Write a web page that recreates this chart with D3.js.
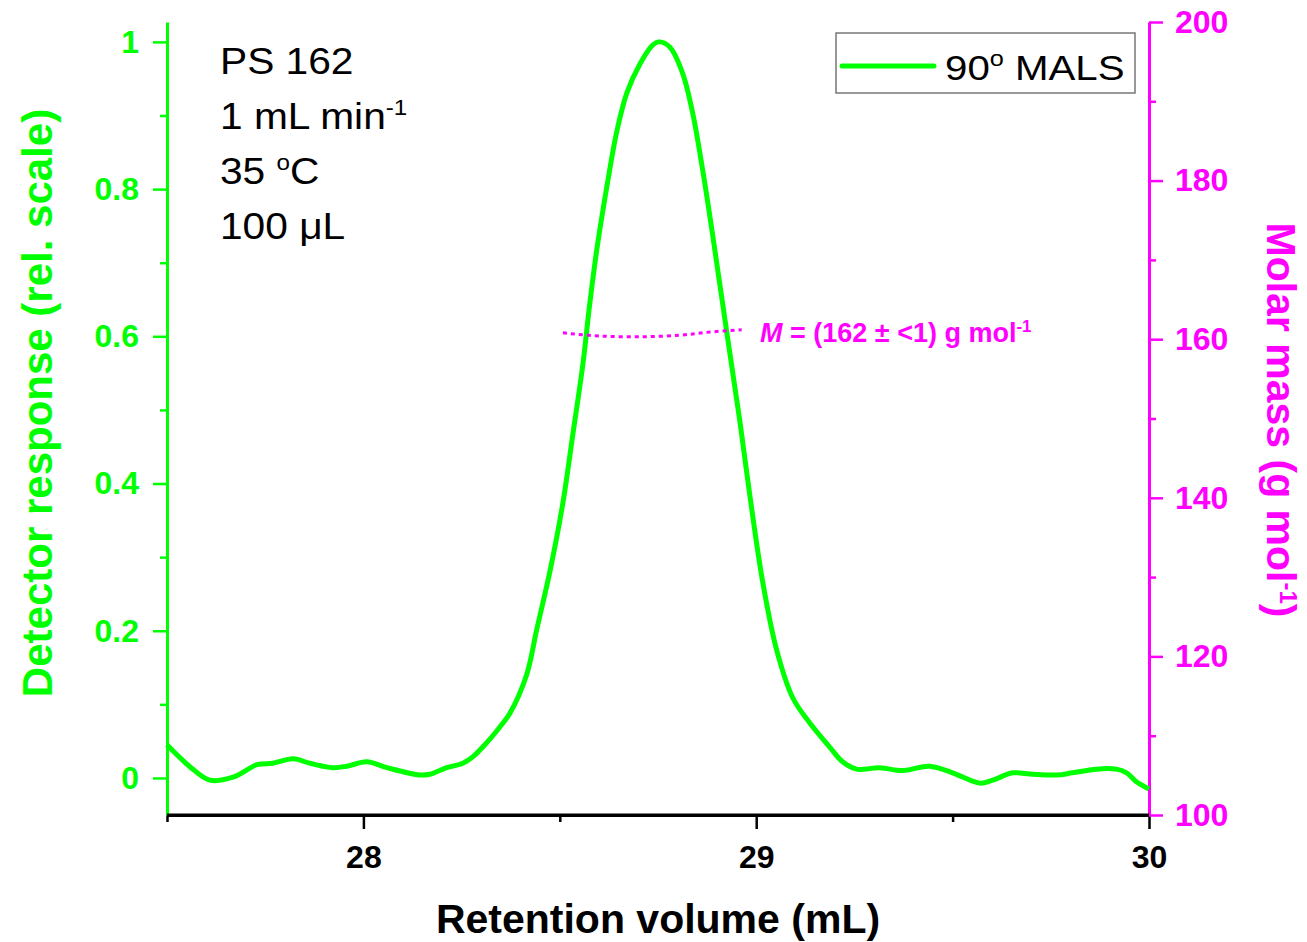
<!DOCTYPE html>
<html><head><meta charset="utf-8">
<script src="https://cdn.jsdelivr.net/npm/d3@7"></script>
<style>
body{margin:0;background:#fff}
svg{display:block}
text{font-family:Arial,"Liberation Sans",Helvetica,sans-serif}
</style>
</head><body>
<svg id="chart" width="1307" height="942"></svg>
<script>
// ---- data ----
const volume = [27.500,27.559,27.609,27.668,27.729,27.770,27.821,27.864,27.922,27.958,28.009,28.060,28.144,28.169,28.212,28.253,28.279,28.314,28.347,28.373,28.416,28.441,28.475,28.508,28.533,28.559,28.576,28.594,28.620,28.645,28.671,28.704,28.737,28.754,28.780,28.813,28.838,28.864,28.889,28.925,28.958,28.983,29.016,29.052,29.093,29.136,29.187,29.220,29.256,29.314,29.373,29.441,29.500,29.569,29.602,29.653,29.704,29.765,29.805,29.866,29.917,29.943,29.968,30.000];
const response = [0.045,0.015,-0.003,0.001,0.018,0.020,0.026,0.020,0.014,0.016,0.022,0.014,0.004,0.005,0.014,0.020,0.029,0.048,0.069,0.088,0.141,0.201,0.281,0.374,0.466,0.563,0.643,0.717,0.804,0.878,0.931,0.970,0.996,1.000,0.993,0.957,0.904,0.825,0.738,0.606,0.486,0.387,0.268,0.174,0.109,0.075,0.042,0.022,0.012,0.014,0.010,0.016,0.007,-0.007,-0.003,0.007,0.005,0.004,0.007,0.012,0.012,0.007,-0.005,-0.015];
const massVolume = [28.508,28.602,28.704,28.805,28.882,28.963];
const molarMass = [160.8,160.4,160.3,160.5,160.9,161.2];

const xMajorTicks = [28,29,30];
const xMinorTicks = [27.5,28.5,29.5];
const yLeftMajor = [0,0.2,0.4,0.6,0.8,1];
const yLeftLabels = ["0","0.2","0.4","0.6","0.8","1"];
const yLeftMinor = [0.1,0.3,0.5,0.7,0.9];
const yRightMajor = [100,120,140,160,180,200];
const yRightMinor = [110,130,150,170,190];
const infoLines = ["PS 162","1 mL min","35 ","100 μL"];

// ---- layout ----
const GREEN = "#00ff00", MAGENTA = "#ff00ff";
const L = 167, R = 1149, T = 22, B = 815;
const svg = d3.select("#chart");

const x = d3.scaleLinear().domain([27.5,30]).range([L,R]);
const yL = d3.scaleLinear().domain([-0.0503,1.027]).range([B,T]);
const yR = d3.scaleLinear().domain([100,200]).range([B,T]);

function styleAxis(g, color, fs){
  g.selectAll("path").attr("stroke",color).attr("stroke-width",3);
  g.selectAll("line").attr("stroke",color).attr("stroke-width",2.5);
  g.selectAll("text").attr("fill",color).attr("font-size",fs).attr("font-weight","bold")
   .attr("font-family",'Arial,"Liberation Sans",sans-serif');
}

// bottom axis
const gx = svg.append("g").attr("transform",`translate(0,${B})`)
  .call(d3.axisBottom(x).tickValues(xMajorTicks).tickFormat(d3.format("d")).tickSize(14).tickSizeOuter(0).tickPadding(16));
styleAxis(gx,"#000",32);
const gxm = svg.append("g").attr("transform",`translate(0,${B})`)
  .call(d3.axisBottom(x).tickValues(xMinorTicks).tickFormat("").tickSize(7).tickSizeOuter(0));
styleAxis(gxm,"#000",32); gxm.select("path").remove();

// left axis
const gl = svg.append("g").attr("transform",`translate(${L},0)`)
  .call(d3.axisLeft(yL).tickValues(yLeftMajor).tickFormat((d,i)=>yLeftLabels[i]).tickSize(14).tickSizeOuter(0).tickPadding(14));
styleAxis(gl,GREEN,32);
const glm = svg.append("g").attr("transform",`translate(${L},0)`)
  .call(d3.axisLeft(yL).tickValues(yLeftMinor).tickFormat("").tickSize(7).tickSizeOuter(0));
styleAxis(glm,GREEN,32); glm.select("path").remove();

// right axis
const gr = svg.append("g").attr("transform",`translate(${R},0)`)
  .call(d3.axisRight(yR).tickValues(yRightMajor).tickFormat(d3.format("d")).tickSize(14).tickSizeOuter(0).tickPadding(12));
styleAxis(gr,MAGENTA,32);
const grm = svg.append("g").attr("transform",`translate(${R},0)`)
  .call(d3.axisRight(yR).tickValues(yRightMinor).tickFormat("").tickSize(7).tickSizeOuter(0));
styleAxis(grm,MAGENTA,32); grm.select("path").remove();

svg.append("line").attr("x1",L).attr("x2",R).attr("y1",B).attr("y2",B).attr("stroke","#000").attr("stroke-width",3);

// detector trace
const pts = volume.map((v,i)=>[v,response[i]]);
svg.append("path").datum(pts)
  .attr("fill","none").attr("stroke",GREEN).attr("stroke-width",5).attr("stroke-linejoin","round")
  .attr("d", d3.line().x(d=>x(d[0])).y(d=>yL(d[1])).curve(d3.curveCatmullRom.alpha(0.5)));

// molar mass dotted line
const mpts = massVolume.map((v,i)=>[v,molarMass[i]]);
svg.append("path").datum(mpts)
  .attr("fill","none").attr("stroke",MAGENTA).attr("stroke-width",3).attr("stroke-dasharray","4,4")
  .attr("d", d3.line().x(d=>x(d[0])).y(d=>yR(d[1])).curve(d3.curveCatmullRom.alpha(0.5)));

// annotation
const ann = svg.append("text").attr("x",760).attr("y",342).attr("fill",MAGENTA)
  .attr("font-size",27).attr("font-weight","bold");
ann.append("tspan").attr("font-style","italic").text("M");
ann.append("tspan").text(" = (162 ± <1) g mol");
ann.append("tspan").attr("dy",-10).attr("font-size",17).text("-1");

// axis titles
svg.append("text").attr("x",(L+R)/2).attr("y",933).attr("text-anchor","middle")
  .attr("font-size",41).attr("font-weight","bold").attr("fill","#000").text("Retention volume (mL)");
svg.append("text").attr("transform",`translate(52,403) rotate(-90)`).attr("text-anchor","middle")
  .attr("font-size",42).attr("font-weight","bold").attr("fill",GREEN).text("Detector response (rel. scale)");
const rt = svg.append("text").attr("transform",`translate(1267,420) rotate(90)`).attr("text-anchor","middle")
  .attr("font-size",41).attr("font-weight","bold").attr("fill",MAGENTA);
rt.append("tspan").text("Molar mass (g mol");
rt.append("tspan").attr("dy",-13).attr("font-size",24).text("-1");
rt.append("tspan").attr("dy",13).text(")");

// info text
const info = svg.append("g").attr("fill","#000");
const baselines = [74,129,184,239];
const infoSize = 37;
function infoText(i){
  return info.append("text").attr("transform",`translate(220,${baselines[i]}) scale(1.1,1)`)
    .attr("font-size",infoSize);
}
infoText(0).text(infoLines[0]);
{ const t = infoText(1); t.append("tspan").text(infoLines[1]); t.append("tspan").attr("dy",-14).attr("font-size",22).text("-1"); }
{ const t = infoText(2); t.append("tspan").text(infoLines[2]); t.append("tspan").attr("dy",-14).attr("font-size",22).text("o"); t.append("tspan").attr("dy",14).text("C"); }
infoText(3).text(infoLines[3]);

// legend
svg.append("rect").attr("x",836).attr("y",33).attr("width",299).attr("height",60)
  .attr("fill","#fff").attr("stroke","#777").attr("stroke-width",1.5);
svg.append("line").attr("x1",842).attr("x2",934).attr("y1",66).attr("y2",66)
  .attr("stroke",GREEN).attr("stroke-width",5).attr("stroke-linecap","round");
const lt = svg.append("text").attr("transform","translate(945,80) scale(1.15,1)").attr("font-size",35).attr("fill","#000");
lt.append("tspan").text("90");
lt.append("tspan").attr("dy",-14).attr("font-size",22).text("o");
lt.append("tspan").attr("dy",14).text(" MALS");
</script>
</body></html>
